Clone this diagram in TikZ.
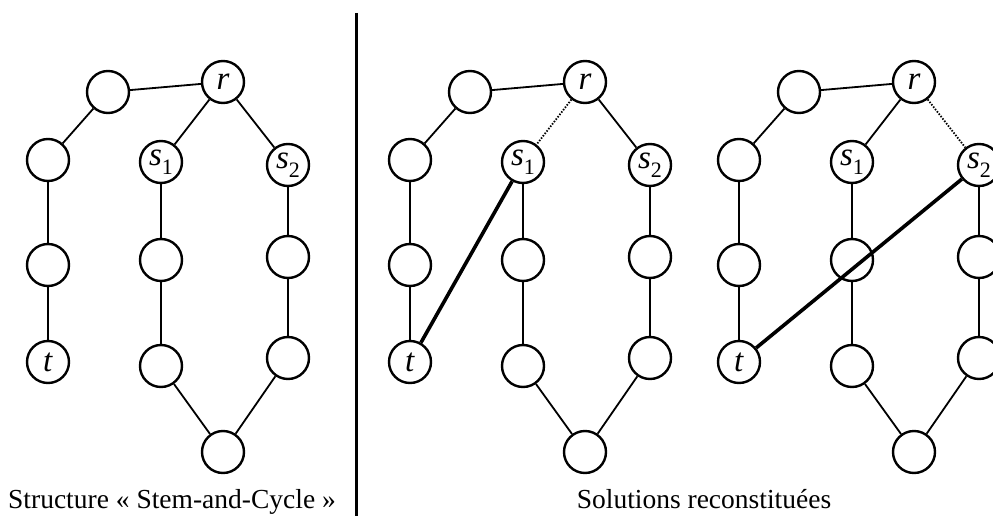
\documentclass[tikz,border=0pt]{standalone}
\usepackage{fontspec}
\setmainfont{Liberation Serif}

\tikzset{
  vtx/.style = {circle, draw, line width=2.4pt, minimum size=42pt, inner sep=0pt,
                font=\fontsize{33}{34}\selectfont},
  link/.style = {line width=1.8pt},
  hint/.style = {line width=1.8pt, dash pattern=on 1.5pt off 1.5pt},
  sol/.style = {line width=3.6pt},
  caption/.style = {anchor=base, font=\fontsize{27.5}{30}\selectfont}
}

% italic s with a lowered index
\newcommand{\sidx}[1]{\textit{s}\raisebox{-0.28em}{\fontsize{22}{22}\selectfont #1}}

% nodes of one stem-and-cycle graph: #1 = name prefix, #2 = x offset
\newcommand{\stemnodes}[2]{%
\node[vtx] (#1a) at (#2+108,92) {};
\node[vtx] (#1r) at (#2+223,82) {\textit{r}};
\node[vtx] (#1l1) at (#2+48,160) {};
\node[vtx] (#1l2) at (#2+48,265) {};
\node[vtx] (#1t) at (#2+48,362) {\textit{t}};
\node[vtx] (#1s1) at (#2+161,162) {\sidx{1}};
\node[vtx] (#1m1) at (#2+161,260) {};
\node[vtx] (#1m2) at (#2+161,366) {};
\node[vtx] (#1s2) at (#2+288,165) {\sidx{2}};
\node[vtx] (#1n1) at (#2+288,257) {};
\node[vtx] (#1n2) at (#2+288,358) {};
\node[vtx] (#1b) at (#2+223,452) {};
}

% edges shared by all three graphs
\newcommand{\stemedges}[1]{%
\draw[link] (#1r) -- (#1a);
\draw[link] (#1a) -- (#1l1);
\draw[link] (#1l1) -- (#1l2);
\draw[link] (#1l2) -- (#1t);
\draw[link] (#1s1) -- (#1m1);
\draw[link] (#1m1) -- (#1m2);
\draw[link] (#1m2) -- (#1b);
\draw[link] (#1s2) -- (#1n1);
\draw[link] (#1n1) -- (#1n2);
\draw[link] (#1n2) -- (#1b);
}

\begin{document}
\begin{tikzpicture}[x=1pt, y=-1pt]
\useasboundingbox (0,0) rectangle (993,516);

% structure
\stemnodes{g}{0}
\stemedges{g}
\draw[link] (gr) -- (gs1);
\draw[link] (gr) -- (gs2);
\node[caption] (capA) at (172,508) {Structure « Stem-and-Cycle »};

% separator
\coordinate (septop) at (356,13);
\coordinate (sepbot) at (356,520);
\draw[line width=3pt] (septop) -- (sepbot);

% first solution
\stemnodes{h}{362}
\stemedges{h}
\draw[hint] (hr) -- (hs1);
\draw[link] (hr) -- (hs2);
\draw[sol] (ht) -- (hs1);

% second solution
\stemnodes{k}{691}
\stemedges{k}
\draw[link] (kr) -- (ks1);
\draw[hint] (kr) -- (ks2);
\draw[sol] (kt) -- (ks2);

\node[caption] (capB) at (704,508) {Solutions reconstituées};
\end{tikzpicture}
\end{document}
